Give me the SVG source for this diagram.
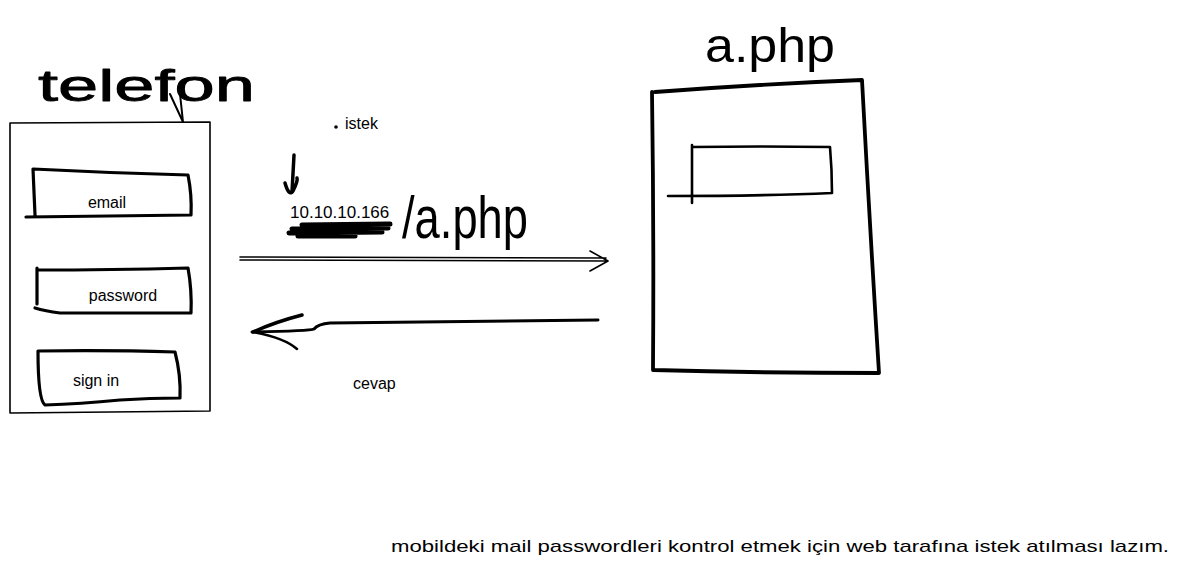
<svg xmlns="http://www.w3.org/2000/svg" width="1179" height="566" viewBox="0 0 1179 566">
<style>
.s{fill:none;stroke:#000;stroke-linecap:round;stroke-linejoin:round}
.t{font-family:"Liberation Sans",Arial,sans-serif;fill:#000}
.hw{font-family:"Liberation Sans",Arial,sans-serif;fill:#000;stroke:#000;stroke-linejoin:round}
</style>
<rect width="1179" height="566" fill="#fff"/>
<g id="telefon">
<text class="hw" x="38" y="101" font-size="44" stroke-width="0.8" textLength="217" lengthAdjust="spacingAndGlyphs">telefon</text>
<path class="s" stroke-width="2" d="M170 94 L183 122 L180 94"/>
<path class="s" stroke-width="1.6" d="M10 123 L210 122 L210 411 L10 413 Z"/>
</g>
<g id="email">
<path class="s" stroke-width="3.2" d="M33 169 Q110 173 188 175 Q192 195 191 215 L26 217 M33 169 L35 215"/>
<text class="t" x="107" y="208" font-size="16" text-anchor="middle">email</text>
</g>
<g id="password">
<path class="s" stroke-width="3.2" d="M37 268 L37 304 M37 270 Q110 270 188 268 Q192 290 191 313 L60 313 Q45 311 35 308"/>
<text class="t" x="123" y="301" font-size="16" text-anchor="middle">password</text>
</g>
<g id="signin">
<path class="s" stroke-width="3.2" d="M38 351 Q110 350 175 352 Q181 375 180 398 Q150 398 120 400 Q80 404 45 405 Q38 400 38 351"/>
<text class="t" x="96" y="386" font-size="16" text-anchor="middle">sign in</text>
</g>
<g id="aphp">
<text class="t" x="705" y="62" font-size="48" textLength="130" lengthAdjust="spacingAndGlyphs">a.php</text>
<path class="s" stroke-width="3.8" d="M655 92 Q760 84 862 80 Q870 230 879 373 Q760 373 653 370 Q654 230 652 92"/>
<path class="s" stroke-width="2.6" d="M692 147 Q760 146 830 147 Q832 170 832 193 Q760 196 668 196 M692 145 L692 203"/>
</g>
<g id="connectors">
<path class="s" stroke-width="1.6" d="M240 257 L606 258 M240 260 L606 261 M590 251 L608 261 L590 271"/>
<path class="s" stroke-width="3" d="M598 320 Q460 322 330 323 Q318 324 314 329 Q310 331 252 332"/>
<path class="s" stroke-width="3.5" d="M302 315 Q275 322 253 332"/>
<path class="s" stroke-width="2.5" d="M253 332 Q285 338 297 349"/>
<circle cx="336" cy="127" r="1.8" fill="#000"/>
<text class="t" x="345" y="129" font-size="16">istek</text>
<path class="s" stroke-width="3.5" d="M294 155 L292 192 M285 183 Q289 197 293 191 Q298 181 297 178"/>
<text class="t" x="290" y="218" font-size="17">10.10.10.166</text>
<path class="s" stroke-width="5" d="M302 225 L390 224 M292 229 L388 228 M289 233 L382 232 M298 236 L355 236"/>
<text class="t" x="402" y="238" font-size="60" textLength="126" lengthAdjust="spacingAndGlyphs">/a.php</text>
<text class="t" x="353" y="389" font-size="16">cevap</text>
</g>
<text class="t" x="391" y="552" font-size="17" textLength="778" lengthAdjust="spacingAndGlyphs">mobildeki mail passwordleri kontrol etmek için web tarafına istek atılması lazım.</text>
</svg>
